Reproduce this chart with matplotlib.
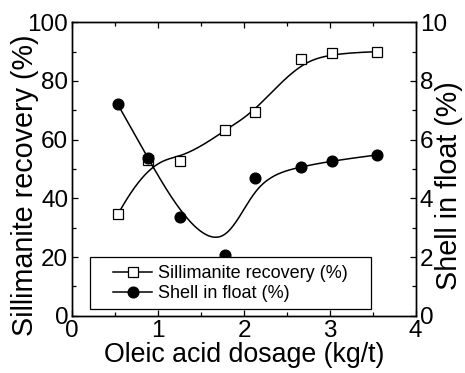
import numpy as np
import matplotlib
matplotlib.use("Agg")
import matplotlib.pyplot as plt
from matplotlib.ticker import MultipleLocator
from matplotlib.patches import Rectangle

plt.rcParams['font.family'] = ['Liberation Sans', 'DejaVu Sans']

dosage = [0.53, 0.88, 1.25, 1.78, 2.13, 2.66, 3.02, 3.55]
recovery = [34.5, 53.0, 52.6, 63.3, 69.5, 87.4, 89.4, 90.0]
shell = [7.2, 5.38, 3.38, 2.08, 4.68, 5.08, 5.28, 5.48]

def bspline(xs, ys, k=3, n=400):
    P = np.column_stack([xs, ys]).astype(float)
    m = len(P)
    knots = np.concatenate([np.zeros(k), np.linspace(0, 1, m - k + 1), np.ones(k)])
    t = np.linspace(0, 1, n)
    t[-1] -= 1e-10
    def basis(i, p, tt):
        if p == 0:
            return np.where((knots[i] <= tt) & (tt < knots[i + 1]), 1.0, 0.0)
        out = np.zeros_like(tt)
        d1 = knots[i + p] - knots[i]
        d2 = knots[i + p + 1] - knots[i + 1]
        if d1 > 0:
            out += (tt - knots[i]) / d1 * basis(i, p - 1, tt)
        if d2 > 0:
            out += (knots[i + p + 1] - tt) / d2 * basis(i + 1, p - 1, tt)
        return out
    B = np.column_stack([basis(i, k, t) for i in range(m)])
    C = B @ P
    return C[:, 0], C[:, 1]

fig = plt.figure(figsize=(4.65, 3.73), dpi=100)
ax = fig.add_axes([0.1555, 0.1536, 0.7385, 0.7866])
ax2 = ax.twinx()

LW = 1.1
cx, cy = bspline(dosage, recovery)
ax.plot(cx, cy, color='black', lw=LW, zorder=2)
ax.plot(dosage, recovery, ls='none', marker='s', ms=6.7, mfc='white', mec='black', mew=0.9, zorder=3)

sx, sy = bspline(dosage, shell)
ax2.plot(sx, sy, color='black', lw=LW, zorder=2)
ax2.plot(dosage, shell, ls='none', marker='o', ms=7.7, mfc='black', mec='black', zorder=3)

ax.set_xlim(0, 4)
ax.set_ylim(0, 100)
ax2.set_ylim(0, 10)
ax.xaxis.set_major_locator(MultipleLocator(1))
ax.xaxis.set_minor_locator(MultipleLocator(0.5))
ax.yaxis.set_major_locator(MultipleLocator(20))
ax.yaxis.set_minor_locator(MultipleLocator(10))
ax2.yaxis.set_major_locator(MultipleLocator(2))
ax2.yaxis.set_minor_locator(MultipleLocator(1))

for a in (ax, ax2):
    for s in a.spines.values():
        s.set_linewidth(1.0)
ax.tick_params(axis='both', which='both', direction='in', labelsize=17.5, width=0.9, top=True, pad=3)
ax.tick_params(which='major', length=4)
ax.tick_params(which='minor', length=3)
ax2.tick_params(axis='y', which='both', direction='in', labelsize=17.5, width=0.9, pad=3)
ax2.tick_params(which='major', length=4)
ax2.tick_params(which='minor', length=3)

ax.set_xlabel('Oleic acid dosage (kg/t)', fontsize=19.3, labelpad=0)
ax.set_ylabel('Sillimanite recovery (%)', fontsize=20.7)
ax.yaxis.set_label_coords(-0.097, 0.445)
ax2.set_ylabel('Shell in float (%)', fontsize=20.7)
ax2.yaxis.set_label_coords(1.056, 0.445)

frame = Rectangle((0.0515, 0.0228), 0.8183, 0.1772, transform=ax2.transAxes,
                  facecolor='white', edgecolor='black', lw=0.9, zorder=4)
ax2.add_patch(frame)

h1 = plt.Line2D([], [], color='black', lw=LW, marker='s', ms=6.7, mfc='white', mec='black', mew=0.9)
h2 = plt.Line2D([], [], color='black', lw=LW, marker='o', ms=7.7, mfc='black', mec='black')
leg = ax2.legend([h1, h2], ['Sillimanite recovery (%)', 'Shell in float (%)'],
                 loc='center left', bbox_to_anchor=(0.1185, 0.11),
                 fontsize=13, frameon=False,
                 handlelength=2.16, handletextpad=0.33, borderpad=0, labelspacing=0.16,
                 borderaxespad=0)
leg.set_zorder(5)

fig.savefig('out.png', dpi=100)
